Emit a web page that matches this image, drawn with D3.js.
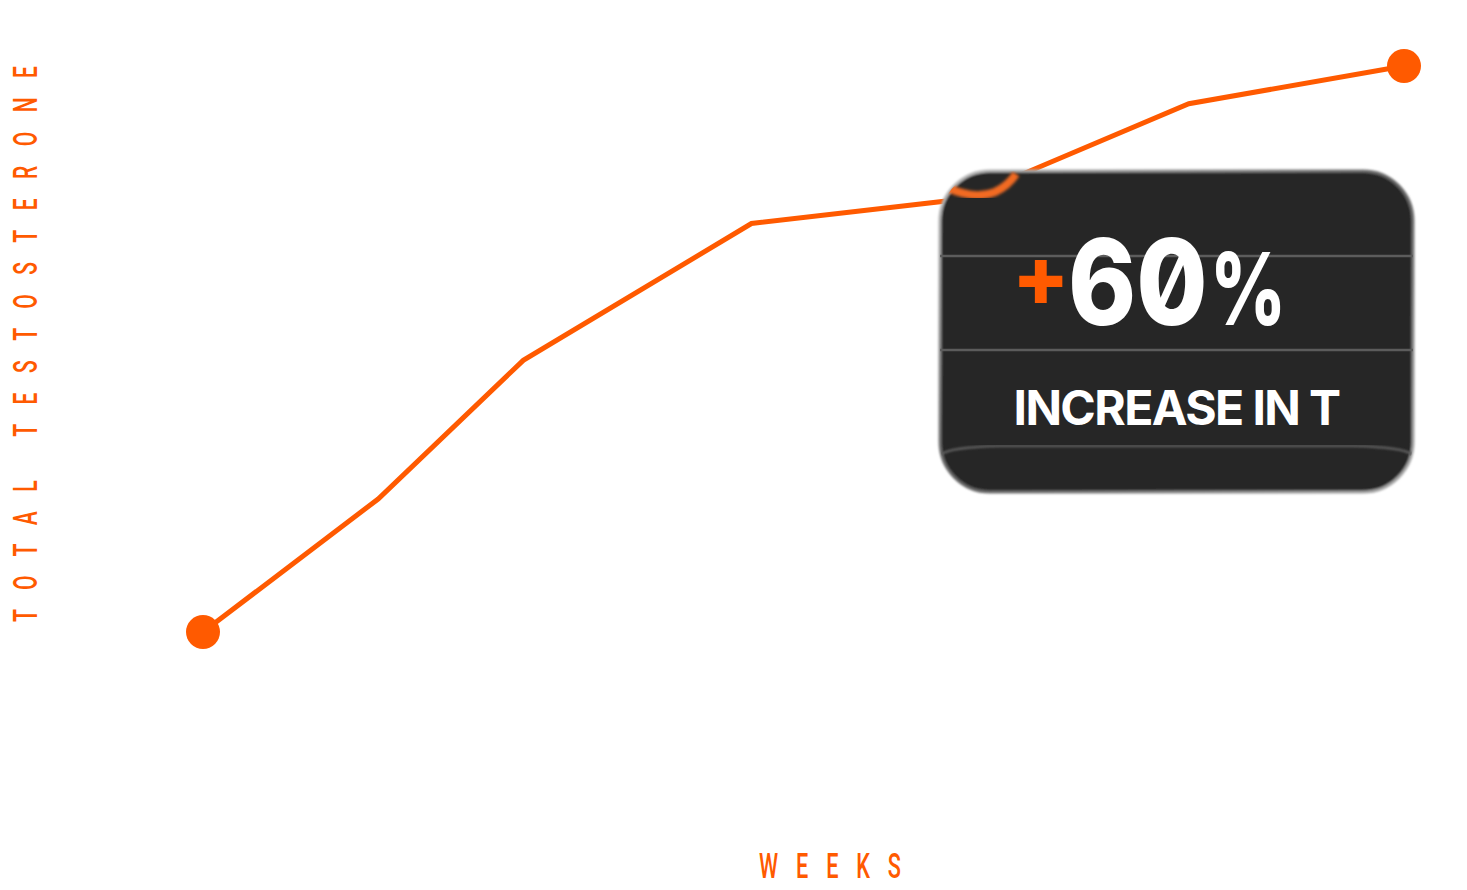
<!DOCTYPE html>
<html>
<head>
<meta charset="utf-8">
<script src="https://cdn.jsdelivr.net/npm/d3@7"></script>
<style>
  html, body { margin: 0; padding: 0; background: #fff; }
  svg { display: block; }
</style>
</head>
<body>
<div id="chart"></div>
<script>
// data (index, start = 100)
const weeks = [0, 1.75, 3.2, 5.48, 7.6, 9.85, 12]
const totalT = [100, 114.1, 128.8, 143.3, 145.9, 156.0, 160]
const yTitle = 'TOTAL TESTOSTERONE'
const xTitle = 'WEEKS'
const calloutNumber = '60'
const calloutUnit = '%'
const calloutLabel = 'INCREASE IN T'

const width = 1467, height = 890
const orange = '#ff5a00'

const svg = d3.select('#chart')
  .append('svg')
  .attr('width', width)
  .attr('height', height)

const x = d3.scaleLinear().domain([0, 12]).range([203, 1404])
const y = d3.scaleLinear().domain([100, 160]).range([632, 66])

const pts = weeks.map((w, i) => [w, totalT[i]])

const defs = svg.append('defs')

// line
svg.append('path')
  .datum(pts)
  .attr('d', d3.line().x(d => x(d[0])).y(d => y(d[1])))
  .attr('fill', 'none')
  .attr('stroke', orange)
  .attr('stroke-width', 5)
  .attr('stroke-linejoin', 'miter')

// start and end dots
svg.selectAll('circle.end')
  .data([pts[0], pts[pts.length - 1]])
  .enter()
  .append('circle')
    .attr('class', 'end')
    .attr('cx', d => x(d[0]))
    .attr('cy', d => y(d[1]))
    .attr('r', 17)
    .attr('fill', orange)

// axis titles
const yt = svg.append('g').attr('transform', 'translate(37,622) rotate(-90)')
yt.append('text')
  .attr('transform', 'scale(0.62,1)')
  .attr('x', 0).attr('y', 0)
  .attr('textLength', 556 / 0.62)
  .attr('lengthAdjust', 'spacing')
  .attr('font-family', 'Roboto')
  .attr('font-weight', 500)
  .attr('font-size', 34)
  .attr('fill', orange)
  .text(yTitle)

svg.append('g').attr('transform', 'translate(759,878)')
  .append('text')
  .attr('transform', 'scale(0.62,1)')
  .attr('textLength', 142 / 0.62)
  .attr('lengthAdjust', 'spacing')
  .attr('font-family', 'Roboto')
  .attr('font-weight', 500)
  .attr('font-size', 35)
  .attr('fill', orange)
  .text(xTitle)

// callout box (glass look)
const bx = 940, by = 171, bw = 473, bh = 321, br = 50

const grad = defs.append('linearGradient').attr('id', 'edge')
  .attr('x1', 0).attr('y1', 0).attr('x2', 1).attr('y2', 1)
grad.append('stop').attr('offset', 0).attr('stop-color', '#bbb')
grad.append('stop').attr('offset', 0.5).attr('stop-color', '#666')
grad.append('stop').attr('offset', 1).attr('stop-color', '#aaa')

defs.append('filter').attr('id', 'soft')
  .append('feGaussianBlur').attr('stdDeviation', 1)
defs.append('filter').attr('id', 'soft2')
  .append('feGaussianBlur').attr('stdDeviation', 1.8)

defs.append('clipPath').attr('id', 'boxclip')
  .append('rect')
  .attr('x', bx).attr('y', by).attr('width', bw).attr('height', bh)
  .attr('rx', br)

const box = svg.append('g')

box.append('rect')
  .attr('x', bx).attr('y', by).attr('width', bw).attr('height', bh)
  .attr('rx', br)
  .attr('fill', '#262626')
  .attr('stroke', 'url(#edge)')
  .attr('stroke-width', 3)
  .attr('filter', 'url(#soft)')

const inner = box.append('g').attr('clip-path', 'url(#boxclip)')

// refracted bit of the line
inner.append('path')
  .attr('d', 'M948,188 Q975,200 995,192 Q1008,186 1016,174')
  .attr('fill', 'none')
  .attr('stroke', '#f26a22')
  .attr('stroke-width', 8)
  .attr('filter', 'url(#soft2)')

inner.selectAll('line.band')
  .data([256, 350])
  .enter()
  .append('line')
    .attr('class', 'band')
    .attr('x1', bx).attr('x2', bx + bw)
    .attr('y1', d => d).attr('y2', d => d)
    .attr('stroke', '#5c5c5c')
    .attr('stroke-width', 2.5)

inner.append('path')
  .attr('d', `M${bx},455 Q${bx + 10},447 ${bx + 60},446 L${bx + bw - 60},446 Q${bx + bw - 10},447 ${bx + bw},455`)
  .attr('fill', 'none')
  .attr('stroke', '#5c5c5c')
  .attr('stroke-width', 2.5)
  .attr('filter', 'url(#soft)')

box.append('text')
  .attr('x', 1012).attr('y', 306)
  .attr('font-family', 'Inter')
  .attr('font-weight', 800)
  .attr('font-size', 84)
  .attr('fill', orange)
  .text('+')

// big figure, squeezed a little horizontally
box.append('g').attr('transform', 'translate(1068,325) scale(0.86,1)')
  .append('text')
  .attr('font-family', 'Inter')
  .attr('font-weight', 800)
  .attr('font-size', 120)
  .style('font-feature-settings', '"zero" 1')
  .attr('fill', '#fff')
  .text(calloutNumber)

box.append('g').attr('transform', 'translate(1210,325) scale(0.74,1)')
  .append('text')
  .attr('font-family', 'Inter')
  .attr('font-weight', 800)
  .attr('font-size', 100)
  .attr('fill', '#fff')
  .text(calloutUnit)

box.append('text')
  .attr('x', bx + bw / 2).attr('y', 425)
  .attr('text-anchor', 'middle')
  .attr('font-family', 'Inter')
  .attr('font-weight', 700)
  .attr('font-size', 48)
  .attr('letter-spacing', -1.6)
  .attr('fill', '#fff')
  .text(calloutLabel)
</script>
</body>
</html>
